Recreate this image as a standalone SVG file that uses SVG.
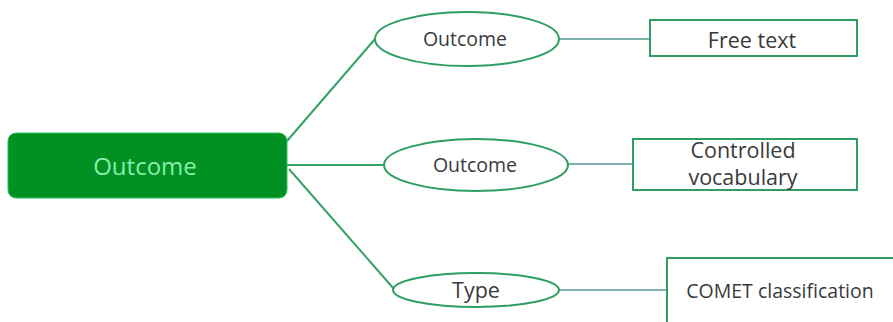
<svg xmlns="http://www.w3.org/2000/svg" width="893" height="322" viewBox="0 0 893 322">
  <style>
    .root-box { fill: #009122; stroke: #2bc35a; stroke-width: 1; }
    .root-label { fill: #86eeaa; font-family: "Open Sans", "Liberation Sans", sans-serif; font-size: 24px; text-anchor: middle; }
    .attr { fill: #ffffff; stroke: #2e9e62; stroke-width: 2; }
    .value { fill: #ffffff; stroke: #2e9e62; stroke-width: 2; }
    .label { fill: #3a3a3a; font-family: "Open Sans", "Liberation Sans", sans-serif; text-anchor: middle; }
    .branch { stroke: #35a266; stroke-width: 2; fill: none; }
    .link { stroke: #7fb2ad; stroke-width: 2; fill: none; }
  </style>

  <rect width="893" height="322" fill="#ffffff"/>

  <g id="connectors">
    <line class="branch" x1="287" y1="141" x2="375" y2="39"/>
    <line class="branch" x1="287" y1="165" x2="385" y2="165"/>
    <line class="branch" x1="289" y1="169" x2="394" y2="289"/>
    <line class="link" x1="559" y1="39" x2="650" y2="39"/>
    <line class="link" x1="568" y1="164" x2="633" y2="164"/>
    <line class="link" x1="559" y1="290" x2="667" y2="290"/>
  </g>

  <g id="root">
    <rect class="root-box" x="8" y="133" width="279" height="65" rx="8"/>
    <text class="root-label" x="145" y="175">Outcome</text>
  </g>

  <g id="attr-outcome-1">
    <ellipse class="attr" cx="467" cy="39" rx="92" ry="27"/>
    <text class="label" x="465" y="46" font-size="19.5">Outcome</text>
  </g>

  <g id="attr-outcome-2">
    <ellipse class="attr" cx="476" cy="165" rx="92" ry="26"/>
    <text class="label" x="475" y="172" font-size="19.5">Outcome</text>
  </g>

  <g id="attr-type">
    <ellipse class="attr" cx="476" cy="290" rx="83" ry="17"/>
    <text class="label" x="476" y="298" font-size="21.5">Type</text>
  </g>

  <g id="value-free-text">
    <rect class="value" x="650" y="20" width="207" height="36"/>
    <text class="label" x="752" y="48" font-size="21.5">Free text</text>
  </g>

  <g id="value-controlled-vocabulary">
    <rect class="value" x="633" y="139" width="224" height="51"/>
    <text class="label" x="743" y="158" font-size="21.5">Controlled</text>
    <text class="label" x="743" y="185" font-size="21.5">vocabulary</text>
  </g>

  <g id="value-comet">
    <rect class="value" x="667" y="258" width="230" height="70"/>
    <text class="label" x="780" y="298" font-size="19.5">COMET classification</text>
  </g>
</svg>
